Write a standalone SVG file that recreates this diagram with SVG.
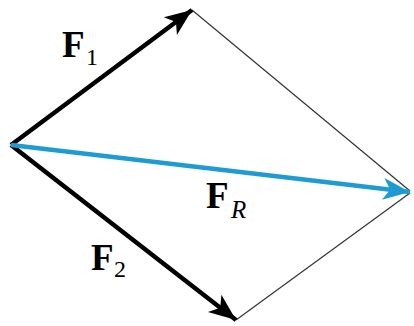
<svg xmlns="http://www.w3.org/2000/svg" width="414" height="326" viewBox="0 0 414 326">
<style>
.thin{stroke:#333;stroke-width:1.2;fill:none}
.force{stroke:#000;stroke-width:4.5;fill:none}
.res{stroke:#1e9bd3;stroke-width:4.5;fill:none}
.lbl{font-family:"Liberation Serif","Times New Roman",serif;fill:#000}
.main{font-size:37px;font-weight:bold}
.sub{font-size:24px}
.subi{font-size:25px;font-style:italic}
</style>
<defs>
<marker id="hb" markerUnits="userSpaceOnUse" viewBox="-28 -12 30 24" refX="0" refY="0" markerWidth="30" markerHeight="24" orient="auto">
<path d="M0,0 L-27,-11 L-20,0 L-27,11 Z" fill="#000"/>
</marker>
<marker id="hc" markerUnits="userSpaceOnUse" viewBox="-28 -12 30 24" refX="0" refY="0" markerWidth="30" markerHeight="24" orient="auto">
<path d="M0,0 L-27,-11 L-20,0 L-27,11 Z" fill="#1e9bd3"/>
</marker>
</defs>
<g id="connectors">
<line class="thin" x1="192" y1="10" x2="410" y2="191"/>
<line class="thin" x1="236" y1="320" x2="410" y2="193"/>
<line id="F1" class="force" x1="11" y1="145" x2="192" y2="10" marker-end="url(#hb)"/>
<line id="F2" class="force" x1="11" y1="145" x2="236" y2="320" marker-end="url(#hb)"/>
<line id="FR" class="res" x1="11" y1="145" x2="410" y2="192" marker-end="url(#hc)"/>
</g>
<g id="label-F1" class="lbl"><text x="62" y="57" class="main">F</text><text x="86" y="65" class="sub">1</text></g>
<g id="label-F2" class="lbl"><text x="91" y="270" class="main">F</text><text x="114" y="277" class="sub">2</text></g>
<g id="label-FR" class="lbl"><text x="206" y="208" class="main">F</text><text x="231" y="218" class="subi">R</text></g>
</svg>
